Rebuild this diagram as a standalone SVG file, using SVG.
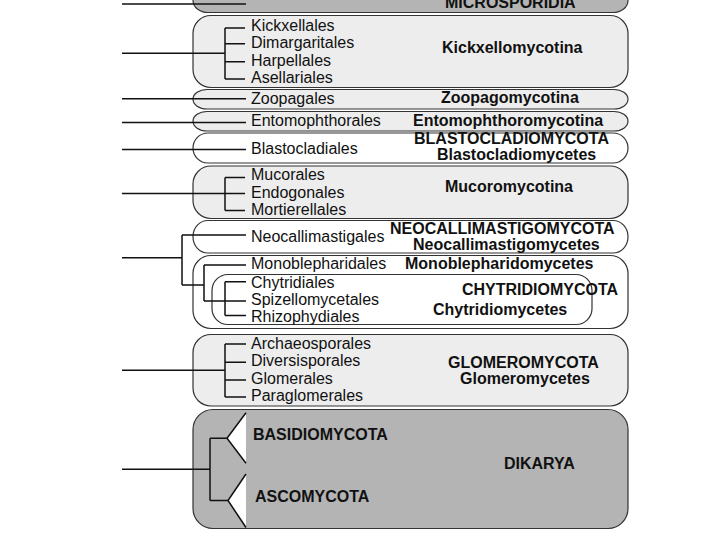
<svg xmlns="http://www.w3.org/2000/svg" width="720" height="540" viewBox="0 0 720 540">
<style>
.box{stroke:#333;stroke-width:1.2}
.lt{fill:#ededed}
.wh{fill:#fff}
.dk{fill:#b4b4b4}
.ln{fill:none;stroke:#111;stroke-width:1.5}
text{font-family:"Liberation Sans",Arial,sans-serif;font-size:16px;fill:#111}
.b{font-weight:bold}
</style>
<rect width="720" height="540" fill="#fff"/>
<g id="microsporidia">
<rect class="box dk" x="193" y="-30" width="435" height="42.5" rx="15" ry="12"/>
<text class="b" x="445" y="7.5" font-size="15">MICROSPORIDIA</text>
</g>
<g id="kickxellomycotina">
<rect class="box lt" x="193" y="15.5" width="435" height="72" rx="18" ry="18"/>
<text x="251" y="30.5">Kickxellales</text>
<text x="251" y="48.3">Dimargaritales</text>
<text x="251" y="66">Harpellales</text>
<text x="251" y="83.3">Asellariales</text>
<text class="b" x="442" y="53.3">Kickxellomycotina</text>
</g>
<g id="zoopagomycotina">
<rect class="box lt" x="193" y="89.5" width="435" height="19.5" rx="14" ry="9.75"/>
<text x="251" y="103.5">Zoopagales</text>
<text class="b" x="441" y="102.5">Zoopagomycotina</text>
</g>
<g id="entomophthoromycotina">
<rect class="box lt" x="193" y="111.5" width="435" height="19.5" rx="14" ry="9.75"/>
<text x="251" y="126">Entomophthorales</text>
<text class="b" x="413" y="125.5">Entomophthoromycotina</text>
</g>
<g id="blastocladiomycota">
<rect class="box wh" x="193" y="133" width="435" height="30" rx="15" ry="15"/>
<text x="251" y="154.3">Blastocladiales</text>
<text class="b" x="414" y="143.5">BLASTOCLADIOMYCOTA</text>
<text class="b" x="437" y="160">Blastocladiomycetes</text>
</g>
<g id="mucoromycotina">
<rect class="box lt" x="193" y="166" width="435" height="52.5" rx="18" ry="18"/>
<text x="251" y="180.3">Mucorales</text>
<text x="251" y="197.5">Endogonales</text>
<text x="251" y="214.5">Mortierellales</text>
<text class="b" x="445" y="192">Mucoromycotina</text>
</g>
<g id="neocallimastigomycota">
<rect class="box wh" x="193" y="220.5" width="435" height="32.5" rx="15" ry="16"/>
<text x="251" y="242">Neocallimastigales</text>
<text class="b" x="390" y="233.5">NEOCALLIMASTIGOMYCOTA</text>
<text class="b" x="413" y="249.5">Neocallimastigomycetes</text>
</g>
<g id="chytridiomycota">
<rect class="box wh" x="193" y="255.5" width="435" height="73" rx="18" ry="18"/>
<text x="251" y="269.3">Monoblepharidales</text>
<text class="b" x="405" y="269.3">Monoblepharidomycetes</text>
<g id="chytridiomycetes">
<rect class="box wh" x="212" y="274.5" width="380" height="50" rx="16" ry="16"/>
<text x="251" y="287.8">Chytridiales</text>
<text x="251" y="305">Spizellomycetales</text>
<text x="251" y="321.5">Rhizophydiales</text>
<text class="b" x="433" y="315">Chytridiomycetes</text>
</g>
<text class="b" x="462" y="295">CHYTRIDIOMYCOTA</text>
</g>
<g id="glomeromycota">
<rect class="box lt" x="193" y="334.5" width="435" height="71.5" rx="18" ry="18"/>
<text x="251" y="348.5">Archaeosporales</text>
<text x="251" y="366">Diversisporales</text>
<text x="251" y="384">Glomerales</text>
<text x="251" y="401.3">Paraglomerales</text>
<text class="b" x="448" y="367.5">GLOMEROMYCOTA</text>
<text class="b" x="460" y="384.3">Glomeromycetes</text>
</g>
<g id="dikarya">
<rect class="box dk" x="193" y="409.5" width="435" height="119" rx="20" ry="20"/>
<polygon points="227,438.3 246,412.7 246,463.3" fill="#fff"/>
<polyline class="ln" points="246,412.7 227,438.3 246,463.3"/>
<polygon points="228,500.5 246,474 246,527.5" fill="#fff"/>
<polyline class="ln" points="246,474 228,500.5 246,527.5"/>
<text class="b" x="253" y="440.3">BASIDIOMYCOTA</text>
<text class="b" x="255" y="502">ASCOMYCOTA</text>
<text class="b" x="504" y="469.3">DIKARYA</text>
</g>
<g id="connectors">
<path class="ln" d="M122,4H246"/>
<path class="ln" d="M122,53.3H225M225,28V79M225,28H245M225,43.7H245M225,61.7H245M225,79H245"/>
<path class="ln" d="M122,98.8H246"/>
<path class="ln" d="M122,122.5H246"/>
<path class="ln" d="M122,149.5H246"/>
<path class="ln" d="M122,193.5H225M225,177.5V210.5M225,177.5H245M225,193.5H245M225,210.5H245"/>
<path class="ln" d="M122,257.7H182M182,235V285M182,235H246M182,285H204M204,265V301M204,265H246M204,301H225M225,281.7V315.5M225,281.7H246M225,301H246M225,315.5H246"/>
<path class="ln" d="M122,370.3H225M225,344V397M225,344H246M225,362.3H246M225,380H246M225,397H246"/>
<path class="ln" d="M122,469.3H210M210,438.3V500.5M210,438.3H227M210,500.5H228"/>
</g>
</svg>
